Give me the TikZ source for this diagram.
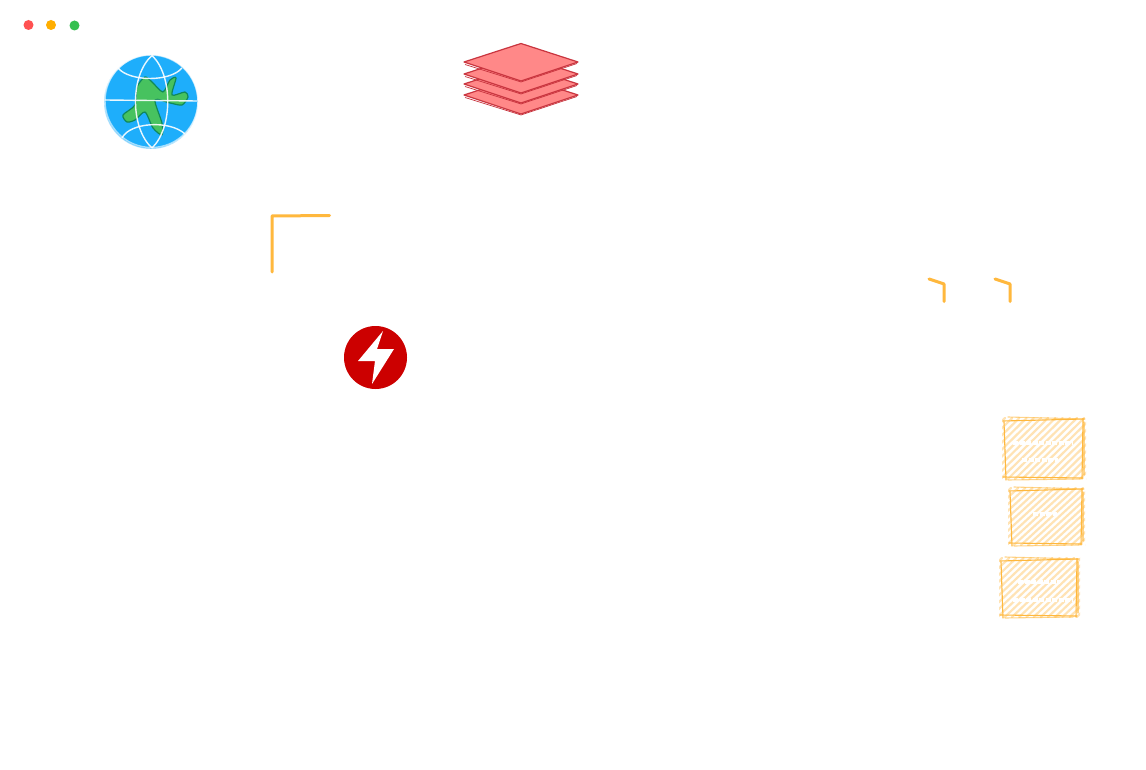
\documentclass[tikz,border=0pt]{standalone}
\definecolor{sketchorange}{HTML}{FFB83D}
\definecolor{dotred}{HTML}{FF5151}
\definecolor{dotyellow}{HTML}{FFAE00}
\definecolor{dotgreen}{HTML}{35C04F}
\definecolor{globeblue}{HTML}{1EAEFB}
\definecolor{landgreen}{HTML}{47C25F}
\definecolor{landedge}{HTML}{10885A}
\definecolor{layerfill}{HTML}{FF8888}
\definecolor{layeredge}{HTML}{C9353F}
\definecolor{boltred}{HTML}{CC0000}
\tikzset{
	corner/.style={draw=sketchorange, line width=3pt, line cap=round, line join=round},
	layer/.style={fill=layerfill, draw=layeredge, line width=1.2pt, line join=round},
	grid line/.style={draw=white, line width=1.4pt, opacity=.9},
	rough/.style={draw=sketchorange, line width=1.1pt, line cap=round},
	hatch/.style={draw=sketchorange, line width=2.2pt, opacity=.38, line cap=round},
	smudge/.style={draw=white, line width=3.6pt, dash pattern=on 5pt off 1.5pt}
}
% one hand drawn box: left, top, right, bottom
\newcommand{\roughbox}[4]{
	\begin{scope}
	\clip (#1-3,#2-3) rectangle (#3+3,#4+3);
	\foreach \k in {0,7.2,...,150}
		\draw[hatch] (#1+\k-62,#4+2) -- (#1+\k,#2-2);
	\end{scope}
	\draw[rough] (#1-1,#2+2) -- (#1+1,#4+3);
	\draw[rough] (#1-2,#2+1) -- (#3+1,#2-1);
	\draw[rough, opacity=.6] (#1+3,#2-3) -- (#3+2,#2-1);
	\draw[rough] (#3,#2-1) -- (#3-1,#4+2);
	\draw[rough, opacity=.6] (#3+1,#2+2) -- (#3+1,#4-2);
	\draw[rough] (#1-2,#4) -- (#3,#4+1);
	\draw[rough, opacity=.6] (#1+3,#4+3) -- (#3-4,#4+2);
}
\begin{document}
\begin{tikzpicture}[x=1pt, y=-1pt]
	\useasboundingbox[fill=white] (0,0) rectangle (1146,770);
	% window dots
	\fill[dotred] (28.5,25) circle (5);
	\fill[dotyellow] (51,25) circle (5);
	\fill[dotgreen] (74.5,25.5) circle (5);
	% globe
	\fill[globeblue] (151,102) circle (47);
	\draw[fill=landgreen, draw=landedge, line width=1.2pt, line join=round] plot[smooth cycle, tension=.45] coordinates {
		(145,77) (137,87) (135,105) (123,115) (127,122) (135,120) (145,112) (153,128) (162,135)
		(162,123) (155,100) (170,103) (182,105) (188,97) (185,92) (172,95) (176,78) (170,80) (163,92) (152,82)};
	\draw[grid line, opacity=.6] (151,102) circle (47);
	\draw[grid line, opacity=.6] (151.5,101) circle (46.5);
	\draw[grid line] (105,100) -- (197,101);
	\draw[grid line] (152,55.5) .. controls (130,75) and (130,128) .. (152,148);
	\draw[grid line] (152,55.5) .. controls (173,75) and (173,128) .. (152,148);
	\draw[grid line] (118,68) .. controls (130,82) and (170,82) .. (182,68);
	\draw[grid line] (122,138) .. controls (130,122) and (170,120) .. (185,134);
	% layers, lowest first
	\foreach \dy in {33,22,12,0}{
		\filldraw[layer] (521,43.5+\dy) -- (578,62+\dy) -- (521,81+\dy) -- (464,62+\dy) -- cycle;
		\draw[layeredge, line width=.7pt] (465,64.5+\dy) -- (521,82+\dy) -- (577,63.5+\dy);
	}
	% orange corners
	\draw[corner] (272,272) -- (272,216) -- (329.5,215.5);
	\draw[corner] (929,279) -- (944,284) -- (944,301.5);
	\draw[corner] (995,279) -- (1010,284) -- (1010,301.5);
	% bolt
	\fill[boltred] (375.5,357.5) circle (31.5);
	\fill[white] (383,331) -- (358,361) -- (375,361) -- (372,384) -- (394,349) -- (377,349) -- cycle;
	% boxes
	\roughbox{1005}{420}{1083}{477}
	\roughbox{1011}{490}{1082}{543}
	\roughbox{1002}{560}{1077}{615}
	\draw[smudge] (1013,443) -- (1073,443) (1022,460) -- (1058,460);
	\draw[smudge] (1033,514) -- (1057,514);
	\draw[smudge] (1018,582) -- (1060,582) (1013,600) -- (1073,600);
\end{tikzpicture}
\end{document}
